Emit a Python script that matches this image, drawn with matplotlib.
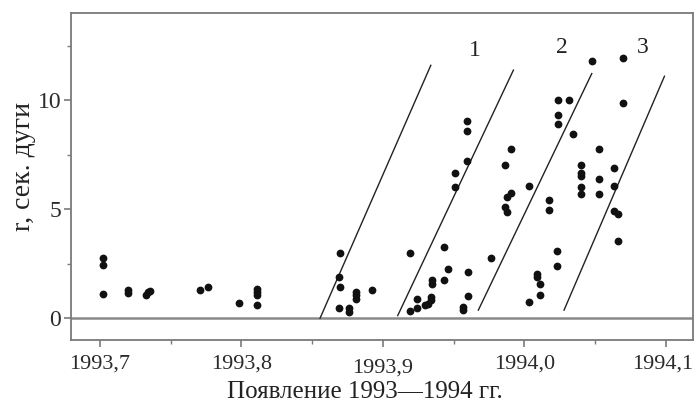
import numpy as np
import matplotlib as mpl
mpl.use('Agg')
import matplotlib.pyplot as plt
from matplotlib.ticker import MultipleLocator, FuncFormatter
from matplotlib.transforms import ScaledTranslation

# appearance epoch (years) and distance r (arcsec)
t = [1993.7023, 1993.7023, 1993.7023,
     1993.7196, 1993.7196,
     1993.7325, 1993.7340, 1993.7356,
     1993.7707, 1993.7766,
     1993.7980,
     1993.8108, 1993.8108, 1993.8108, 1993.8108,
     1993.8700, 1993.8688, 1993.8700, 1993.8688,
     1993.8763, 1993.8763,
     1993.8808, 1993.8808, 1993.8808,
     1993.8924,
     1993.9192, 1993.9434, 1993.9463, 1993.9434,
     1993.9348, 1993.9348,
     1993.9244, 1993.9244, 1993.9192,
     1993.9298, 1993.9317, 1993.9339, 1993.9339,
     1993.9593, 1993.9593, 1993.9593,
     1993.9510, 1993.9510,
     1993.9603, 1993.9603,
     1993.9569, 1993.9569,
     1993.9765,
     1993.9904, 1993.9866, 1994.0036,
     1993.9904, 1993.9876, 1993.9866, 1993.9876,
     1994.0175, 1994.0175,
     1994.0229, 1994.0229,
     1994.0088, 1994.0092, 1994.0112, 1994.0112,
     1994.0036,
     1994.0237, 1994.0317, 1994.0237, 1994.0237,
     1994.0347,
     1994.0477,
     1994.0700, 1994.0700,
     1994.0529,
     1994.0402, 1994.0402, 1994.0402, 1994.0402, 1994.0402,
     1994.0529, 1994.0529,
     1994.0637, 1994.0637,
     1994.0637, 1994.0666,
     1994.0666]
r = [2.74, 2.43, 1.13,
     1.28, 1.16,
     1.06, 1.21, 1.26,
     1.28, 1.44,
     0.70,
     1.36, 1.21, 1.06, 0.60,
     2.97, 1.87, 1.44, 0.49,
     0.47, 0.29,
     1.21, 1.06, 0.86,
     1.31,
     3.01, 3.27, 2.25, 1.74,
     1.74, 1.59,
     0.90, 0.47, 0.33,
     0.60, 0.67, 0.83, 0.95,
     9.04, 8.58, 7.20,
     6.64, 6.03,
     2.14, 1.01,
     0.52, 0.37,
     2.78,
     7.74, 7.02, 6.07,
     5.75, 5.54, 5.11, 4.88,
     5.41, 4.95,
     3.07, 2.39,
     2.05, 1.90, 1.56, 1.06,
     0.75,
     10.00, 10.03, 9.30, 8.90,
     8.47,
     11.80,
     11.94, 9.85,
     7.78,
     7.02, 6.67, 6.50, 6.03, 5.72,
     6.39, 5.72,
     6.91, 6.07,
     4.91, 4.80,
     3.55]

# fitted lines: (t0, r0) -> (t1, r1)
lines_t = [(1993.8556, 1993.9339), (1993.9105, 1993.9923),
           (1993.9675, 1994.0477), (1994.0281, 1994.0991)]
lines_r = [(0.0, 11.60), (0.12, 11.38), (0.37, 11.22), (0.37, 11.10)]
line_labels = ['1', '2', '3']
label_t = [1993.9652, 1994.0269, 1994.0835]
label_r = [12.3, 12.4, 12.4]

plt.rcParams['font.family'] = ['Liberation Serif', 'DejaVu Serif']

fig = plt.figure(figsize=(6.94, 4.05), dpi=100)
ax = fig.add_axes([0.1023, 0.1605, 0.8963, 0.8074])

ax.axhline(0, color='#8a8a8a', lw=1.8, zorder=1)
for lt, lr in zip(lines_t, lines_r):
    ax.plot(lt, lr, color='#222222', lw=1.0, zorder=2)
ax.plot(t, r, 'o', color='#111111', ms=5.6, mec='none', zorder=3)

for s, x, y in zip(line_labels, label_t, label_r):
    ax.text(x, y, s, fontsize=17, ha='center', va='center', color='#222222')

ax.set_xlim(1993.6795, 1994.1193)
ax.set_ylim(-1, 14)
ax.xaxis.set_major_locator(MultipleLocator(0.1))
ax.xaxis.set_minor_locator(MultipleLocator(0.05))
ax.yaxis.set_major_locator(MultipleLocator(5))
ax.yaxis.set_minor_locator(MultipleLocator(2.5))
ax.xaxis.set_major_formatter(FuncFormatter(lambda v, p: ('%.1f' % v).replace('.', ',')))

for sp in ax.spines.values():
    sp.set_color('#7a7a7a')
    sp.set_linewidth(1.3)
ax.tick_params(which='both', direction='out', color='#7a7a7a', labelsize=17,
               labelcolor='#2a2a2a')
ax.tick_params(which='major', length=5, width=1.2)
ax.tick_params(which='minor', length=3, width=1.0)
ax.tick_params(axis='x', labelsize=16, pad=5.5)
ax.tick_params(axis='y', pad=2)

# nudge a couple of year labels: last one stays inside the figure, 1993,9 sits lower
fig.canvas.draw()
for tick in ax.xaxis.get_major_ticks():
    loc = round(tick.get_loc(), 2)
    dx, dy = 0, 0
    if loc == 1994.1:
        dx = -3
    elif loc == 1993.9:
        dy = -4
    if dx or dy:
        lab = tick.label1
        lab.set_transform(lab.get_transform() +
                          ScaledTranslation(dx / 100, dy / 100, fig.dpi_scale_trans))

fig.text(365 / 694, 7 / 405, 'Появление 1993—1994 гг.', fontsize=18,
         color='#222222', ha='center', va='baseline')
fig.text(23 / 694, 0.59, 'r, сек. дуги', fontsize=20, color='#222222',
         ha='center', va='center', rotation=90)

fig.savefig('out.png', dpi=100)
